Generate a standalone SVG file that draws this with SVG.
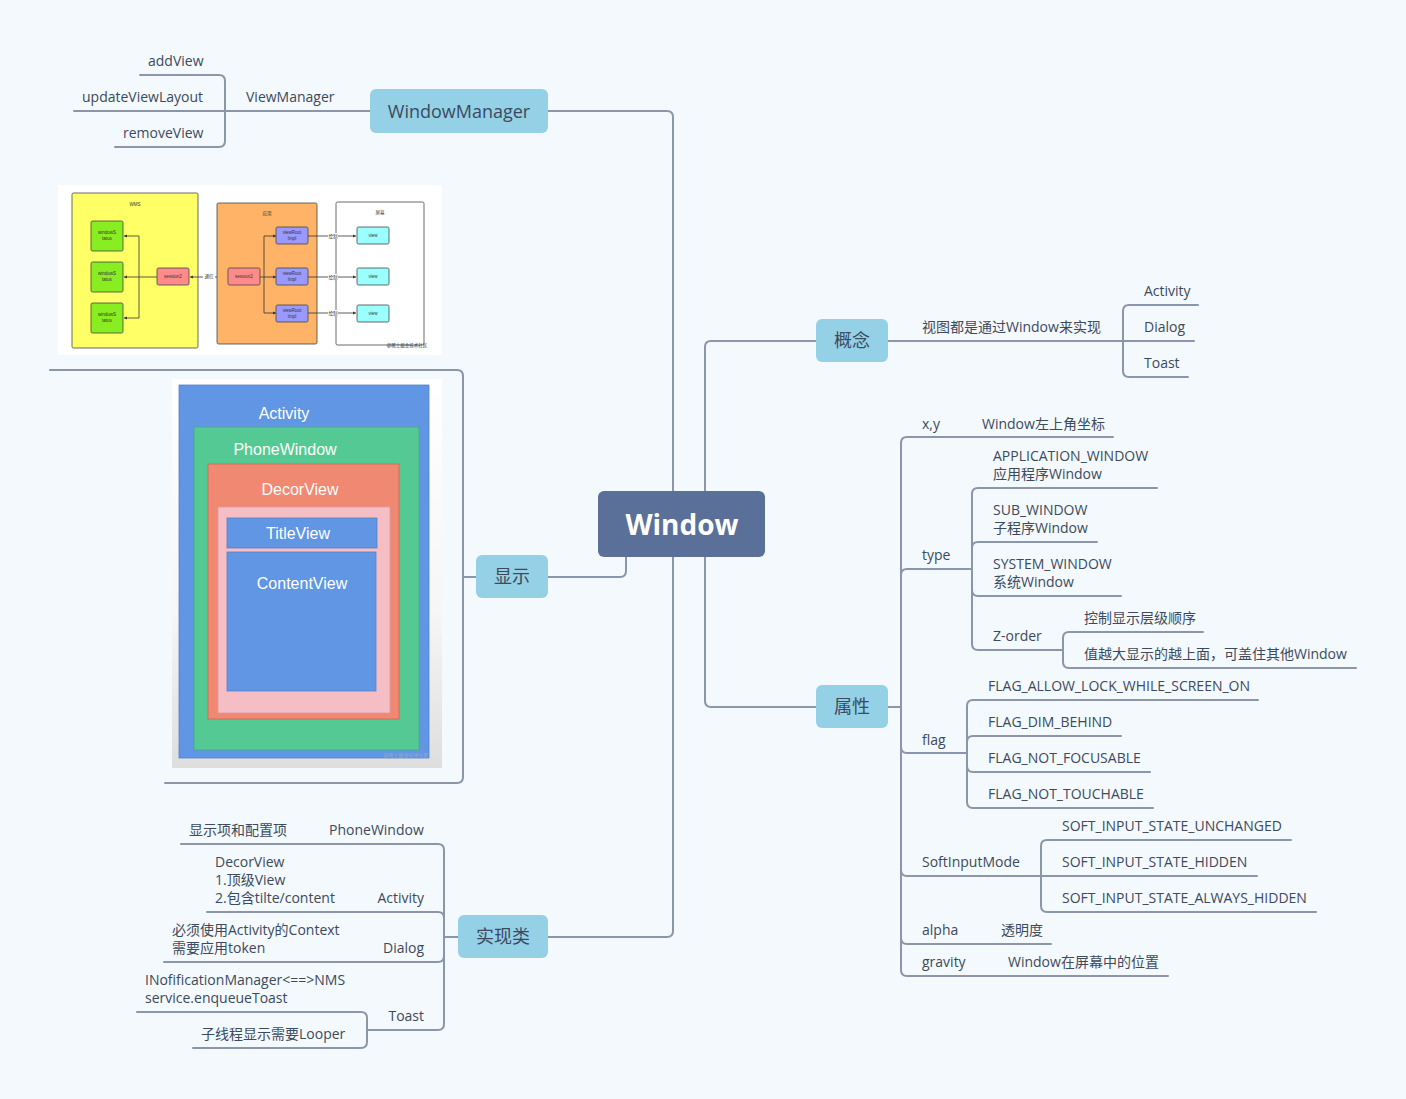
<svg xmlns="http://www.w3.org/2000/svg" width="1406" height="1099" viewBox="0 0 1406 1099">
<defs>
<style>
.c{fill:none;stroke:#8a96a9;stroke-width:2;stroke-linecap:round}
.t{font-family:"Open Sans","Noto Sans CJK SC",sans-serif;font-size:14px;fill:#3c4a5c}
.e{text-anchor:end}
.main{fill:#94d1e7}
.mt{font-family:"Open Sans","Noto Sans CJK SC",sans-serif;font-size:18px;fill:#3c4a5c;text-anchor:middle}
.ib{stroke:#444;stroke-width:0.8}
.it{font-family:"Liberation Sans","Noto Sans CJK SC",sans-serif;font-size:4.5px;fill:#333;text-anchor:middle}
.il{stroke:#333;stroke-width:0.8;fill:none}
.big{font-family:"Liberation Sans",Arial,sans-serif;font-size:16px;fill:#fff;text-anchor:middle}
</style>
<marker id="ah" viewBox="0 0 6 6" refX="6" refY="3" markerWidth="4" markerHeight="4" orient="auto"><path d="M0,0 L6,3 L0,6 z" fill="#333"/></marker>
<linearGradient id="gbg" x1="0" y1="0" x2="0" y2="1"><stop offset="0" stop-color="#ffffff"/><stop offset="0.6" stop-color="#f6f6f6"/><stop offset="1" stop-color="#dedede"/></linearGradient>
</defs>
<rect width="1406" height="1099" fill="#f4f9fd"/>

<g id="connectors">
<path class="c" d="M673,491 V117 Q673,111 667,111 H548"/>
<path class="c" d="M705,491 V347 Q705,341 711,341 H816"/>
<path class="c" d="M705,557 V701 Q705,707 711,707 H816"/>
<path class="c" d="M673,557 V931 Q673,937 667,937 H548"/>
<path class="c" d="M626,557 V571 Q626,577 620,577 H548"/>
<!-- WindowManager -->
<path class="c" d="M370,111 H225"/>
<path class="c" d="M225,111 V81 Q225,75 219,75 H140"/>
<path class="c" d="M225,111 H74"/>
<path class="c" d="M225,111 V141 Q225,147 219,147 H115"/>
<!-- 概念 -->
<path class="c" d="M888,341 H1123"/>
<path class="c" d="M1123,341 V311 Q1123,305 1129,305 H1198"/>
<path class="c" d="M1123,341 H1194"/>
<path class="c" d="M1123,341 V371 Q1123,377 1129,377 H1188"/>
<!-- 显示 -->
<path class="c" d="M476,577 H463"/>
<path class="c" d="M463,577 V376 Q463,370 457,370 H50"/>
<path class="c" d="M463,577 V777 Q463,783 457,783 H165"/>
<!-- 属性 -->
<path class="c" d="M888,707 H901"/>
<path class="c" d="M901,707 V443 Q901,437 907,437 H1113"/>
<path class="c" d="M901,707 V575 Q901,569 907,569 H972"/>
<path class="c" d="M901,707 V747 Q901,753 907,753 H967"/>
<path class="c" d="M901,707 V870 Q901,876 907,876 H1041"/>
<path class="c" d="M901,707 V938 Q901,944 907,944 H1051"/>
<path class="c" d="M901,707 V970 Q901,976 907,976 H1168"/>
<!-- type -->
<path class="c" d="M972,569 V494 Q972,488 978,488 H1157"/>
<path class="c" d="M972,569 V548 Q972,542 978,542 H1097"/>
<path class="c" d="M972,569 V590 Q972,596 978,596 H1121"/>
<path class="c" d="M972,569 V644 Q972,650 978,650 H1063"/>
<!-- Z-order -->
<path class="c" d="M1063,650 V638 Q1063,632 1069,632 H1203"/>
<path class="c" d="M1063,650 V662 Q1063,668 1069,668 H1356"/>
<!-- flag -->
<path class="c" d="M967,753 V706 Q967,700 973,700 H1258"/>
<path class="c" d="M967,753 V742 Q967,736 973,736 H1121"/>
<path class="c" d="M967,753 V766 Q967,772 973,772 H1150"/>
<path class="c" d="M967,753 V802 Q967,808 973,808 H1153"/>
<!-- SoftInputMode -->
<path class="c" d="M1041,876 V846 Q1041,840 1047,840 H1291"/>
<path class="c" d="M1041,876 H1257"/>
<path class="c" d="M1041,876 V906 Q1041,912 1047,912 H1316"/>
<!-- 实现类 -->
<path class="c" d="M458,937 H444"/>
<path class="c" d="M444,937 V850 Q444,844 438,844 H181"/>
<path class="c" d="M444,937 V918 Q444,912 438,912 H207"/>
<path class="c" d="M444,937 V956 Q444,962 438,962 H164"/>
<path class="c" d="M444,937 V1024 Q444,1030 438,1030 H367"/>
<!-- Toast -->
<path class="c" d="M367,1030 V1018 Q367,1012 361,1012 H137"/>
<path class="c" d="M367,1030 V1042 Q367,1048 361,1048 H193"/>
</g>

<g id="window">
<rect x="598" y="491" width="167" height="66" rx="6" fill="#5a7099"/>
<text x="682" y="535" font-family="'Open Sans','Noto Sans',sans-serif" font-size="28" font-weight="bold" fill="#ffffff" text-anchor="middle">Window</text>
</g>

<g id="windowmanager">
<rect class="main" x="370" y="89" width="178" height="44" rx="6"/>
<text class="mt" x="459" y="118" font-size="19">WindowManager</text>
</g>
<g id="viewmanager"><text class="t" x="246" y="102">ViewManager</text></g>
<g id="addview"><text class="t" x="148" y="66">addView</text></g>
<g id="updateviewlayout"><text class="t" x="82" y="102">updateViewLayout</text></g>
<g id="removeview"><text class="t" x="123" y="138">removeView</text></g>

<g id="gainian">
<rect class="main" x="816" y="319" width="72" height="43" rx="6"/>
<text class="mt" x="852" y="347">概念</text>
</g>
<g id="gainian-desc"><text class="t" x="922" y="332">视图都是通过Window来实现</text></g>
<g id="gn-activity"><text class="t" x="1144" y="296">Activity</text></g>
<g id="gn-dialog"><text class="t" x="1144" y="332">Dialog</text></g>
<g id="gn-toast"><text class="t" x="1144" y="368">Toast</text></g>

<g id="shuxing">
<rect class="main" x="816" y="685" width="72" height="43" rx="6"/>
<text class="mt" x="852" y="713">属性</text>
</g>
<g id="xy"><text class="t" x="922" y="429">x,y</text><text class="t" x="982" y="429">Window左上角坐标</text></g>
<g id="type"><text class="t" x="922" y="560">type</text></g>
<g id="app-window"><text class="t" x="993" y="461">APPLICATION_WINDOW</text><text class="t" x="993" y="479">应用程序Window</text></g>
<g id="sub-window"><text class="t" x="993" y="515">SUB_WINDOW</text><text class="t" x="993" y="533">子程序Window</text></g>
<g id="sys-window"><text class="t" x="993" y="569">SYSTEM_WINDOW</text><text class="t" x="993" y="587">系统Window</text></g>
<g id="zorder"><text class="t" x="993" y="641">Z-order</text></g>
<g id="zorder-1"><text class="t" x="1084" y="623">控制显示层级顺序</text></g>
<g id="zorder-2"><text class="t" x="1084" y="659">值越大显示的越上面，可盖住其他Window</text></g>
<g id="flag"><text class="t" x="922" y="745">flag</text></g>
<g id="flag-1"><text class="t" x="988" y="691">FLAG_ALLOW_LOCK_WHILE_SCREEN_ON</text></g>
<g id="flag-2"><text class="t" x="988" y="727">FLAG_DIM_BEHIND</text></g>
<g id="flag-3"><text class="t" x="988" y="763">FLAG_NOT_FOCUSABLE</text></g>
<g id="flag-4"><text class="t" x="988" y="799">FLAG_NOT_TOUCHABLE</text></g>
<g id="softinput"><text class="t" x="922" y="867">SoftInputMode</text></g>
<g id="soft-1"><text class="t" x="1062" y="831">SOFT_INPUT_STATE_UNCHANGED</text></g>
<g id="soft-2"><text class="t" x="1062" y="867">SOFT_INPUT_STATE_HIDDEN</text></g>
<g id="soft-3"><text class="t" x="1062" y="903">SOFT_INPUT_STATE_ALWAYS_HIDDEN</text></g>
<g id="alpha"><text class="t" x="922" y="935">alpha</text><text class="t" x="1001" y="935">透明度</text></g>
<g id="gravity"><text class="t" x="922" y="967">gravity</text><text class="t" x="1008" y="967">Window在屏幕中的位置</text></g>

<g id="xianshi">
<rect class="main" x="476" y="555" width="72" height="43" rx="6"/>
<text class="mt" x="512" y="583">显示</text>
</g>

<g id="wms-image">
<rect x="58" y="185" width="384" height="170" fill="#ffffff"/>
<rect class="ib" x="72" y="193" width="126" height="155" rx="1.5" fill="#ffff66"/>
<text class="it" x="135" y="206">WMS</text>
<rect class="ib" x="91" y="221" width="32" height="30" rx="1.5" fill="#88ee22"/>
<rect class="ib" x="91" y="262" width="32" height="30" rx="1.5" fill="#88ee22"/>
<rect class="ib" x="91" y="303" width="32" height="30" rx="1.5" fill="#88ee22"/>
<text class="it" x="107" y="234">windowS</text><text class="it" x="107" y="240">tatus</text>
<text class="it" x="107" y="275">windowS</text><text class="it" x="107" y="281">tatus</text>
<text class="it" x="107" y="316">windowS</text><text class="it" x="107" y="322">tatus</text>
<path class="il" d="M139,277 V236 H124" marker-end="url(#ah)"/>
<path class="il" d="M139,277 V318 H124" marker-end="url(#ah)"/>
<path class="il" d="M157,277 H124" marker-end="url(#ah)"/>
<rect class="ib" x="157" y="268" width="32" height="17" rx="1.5" fill="#ff8a8a"/>
<text class="it" x="173" y="278">session2</text>
<path class="il" d="M203,277 H190" marker-end="url(#ah)"/>
<text class="it" x="209" y="278">通信</text>
<path class="il" d="M215,277 H228" marker-end="url(#ah)"/>
<rect class="ib" x="217" y="203" width="100" height="141" rx="1.5" fill="#ffb366"/>
<text class="it" x="267" y="215">应用</text>
<rect class="ib" x="228" y="268" width="32" height="17" rx="1.5" fill="#ff8a8a"/>
<text class="it" x="244" y="278">session2</text>
<path class="il" d="M260,277 H276" marker-end="url(#ah)"/>
<path class="il" d="M264,277 V236 H276" marker-end="url(#ah)"/>
<path class="il" d="M264,277 V313 H276" marker-end="url(#ah)"/>
<rect class="ib" x="276" y="227" width="32" height="17" rx="1.5" fill="#9999ff"/>
<rect class="ib" x="276" y="268" width="32" height="17" rx="1.5" fill="#9999ff"/>
<rect class="ib" x="276" y="305" width="32" height="17" rx="1.5" fill="#9999ff"/>
<text class="it" x="292" y="234">viewRoot</text><text class="it" x="292" y="240">Impl</text>
<text class="it" x="292" y="275">viewRoot</text><text class="it" x="292" y="281">Impl</text>
<text class="it" x="292" y="312">viewRoot</text><text class="it" x="292" y="318">Impl</text>
<rect class="ib" x="336" y="202" width="88" height="143" rx="1.5" fill="#ffffff"/>
<text class="it" x="380" y="214">屏幕</text>
<path class="il" d="M308,236 H356" marker-end="url(#ah)"/>
<path class="il" d="M308,277 H356" marker-end="url(#ah)"/>
<path class="il" d="M308,313 H356" marker-end="url(#ah)"/>
<rect x="328" y="233" width="10" height="6" fill="#ffffff"/>
<rect x="328" y="274" width="10" height="6" fill="#ffffff"/>
<rect x="328" y="310" width="10" height="6" fill="#ffffff"/>
<text class="it" x="333" y="238">绘制</text>
<text class="it" x="333" y="279">绘制</text>
<text class="it" x="333" y="315">绘制</text>
<rect class="ib" x="357" y="227" width="32" height="17" rx="1.5" fill="#99ffff"/>
<rect class="ib" x="357" y="268" width="32" height="17" rx="1.5" fill="#99ffff"/>
<rect class="ib" x="357" y="305" width="32" height="17" rx="1.5" fill="#99ffff"/>
<text class="it" x="373" y="237">view</text>
<text class="it" x="373" y="278">view</text>
<text class="it" x="373" y="315">view</text>
<text class="it" x="407" y="347" fill="#aaaaaa">@稀土掘金技术社区</text>
</g>

<g id="activity-image">
<rect x="172" y="379" width="270" height="389" fill="url(#gbg)"/>
<rect x="179" y="385" width="250" height="373" fill="#6096e4" stroke="#5580c8" stroke-width="0.8"/>
<text class="big" x="284" y="419">Activity</text>
<rect x="194" y="427" width="225" height="323" fill="#55c994" stroke="#4aa97e" stroke-width="0.8"/>
<text class="big" x="285" y="455">PhoneWindow</text>
<rect x="208" y="464" width="191" height="255" fill="#f08872" stroke="#c86a58" stroke-width="0.8"/>
<text class="big" x="300" y="495">DecorView</text>
<rect x="218" y="507" width="172" height="206" fill="#f5bec5" stroke="#d89ca4" stroke-width="0.8"/>
<rect x="227" y="518" width="150" height="30" fill="#6096e4" stroke="#5580c8" stroke-width="0.8"/>
<text class="big" x="298" y="539">TitleView</text>
<rect x="227" y="552" width="149" height="139" fill="#6096e4" stroke="#5580c8" stroke-width="0.8"/>
<text class="big" x="302" y="589">ContentView</text>
<text x="406" y="757" font-family="'Liberation Sans','Noto Sans CJK SC',sans-serif" font-size="5" fill="#9aa9c4" text-anchor="middle">@稀土掘金技术社区</text>
</g>

<g id="shixianlei">
<rect class="main" x="458" y="915" width="90" height="43" rx="6"/>
<text class="mt" x="503" y="943">实现类</text>
</g>
<g id="phonewindow"><text class="t" x="329" y="835">PhoneWindow</text></g>
<g id="phonewindow-desc"><text class="t" x="189" y="835">显示项和配置项</text></g>
<g id="sx-activity"><text class="t e" x="424" y="903">Activity</text></g>
<g id="sx-activity-desc"><text class="t" x="215" y="867">DecorView</text><text class="t" x="215" y="885">1.顶级View</text><text class="t" x="215" y="903">2.包含tilte/content</text></g>
<g id="sx-dialog"><text class="t e" x="424" y="953">Dialog</text></g>
<g id="sx-dialog-desc"><text class="t" x="172" y="935">必须使用Activity的Context</text><text class="t" x="172" y="953">需要应用token</text></g>
<g id="sx-toast"><text class="t e" x="424" y="1021">Toast</text></g>
<g id="toast-1"><text class="t" x="145" y="985">INofificationManager&lt;==&gt;NMS</text><text class="t" x="145" y="1003">service.enqueueToast</text></g>
<g id="toast-2"><text class="t" x="201" y="1039">子线程显示需要Looper</text></g>
</svg>
